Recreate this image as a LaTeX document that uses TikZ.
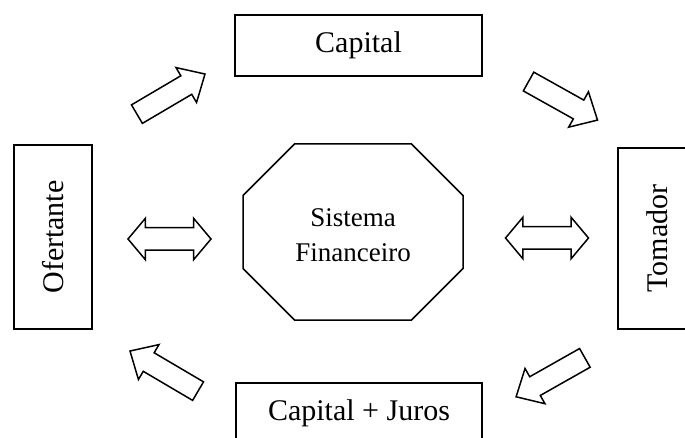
\documentclass[tikz,border=0pt]{standalone}
\usepackage{fontspec}
\setmainfont{Liberation Serif}
\usetikzlibrary{shapes.arrows}
\begin{document}
\begin{tikzpicture}
    [x=1pt, y=-1pt, line width=1.5pt,
    lbox/.style={draw, rectangle, inner sep=0pt, font=\fontsize{30}{36}\selectfont},
    flowarrow/.style={draw, single arrow, inner sep=10pt, minimum height=79pt,
      single arrow head extend=9.5pt, single arrow tip angle=86},
    swaparrow/.style={draw, double arrow, inner sep=10.5pt, minimum height=83pt,
      double arrow head extend=9.5pt, double arrow tip angle=100}]
    \useasboundingbox (0,0) rectangle (685,438);
    \clip (0,0) rectangle (685,438);
    % the four boxes
    \node[lbox, minimum width=247pt, minimum height=61pt] (capital) at (358.5,45.5) {Capital};
    \node[lbox, minimum width=246pt, minimum height=61pt] (juros) at (359,413.5) {Capital + Juros};
    \node[lbox, minimum width=184pt, minimum height=78pt, rotate=90] (ofertante) at (53,237) {Ofertante};
    \node[lbox, minimum width=181pt, minimum height=78pt, rotate=90] (tomador) at (657,238.5) {Tomador};
    % centre
    \node[align=center, font=\fontsize{27}{35}\selectfont] (sistema) at (353,235) {Sistema\\Financeiro};
    \draw[shift={(353,232)}] (-58.5,-88) -- (58.5,-88) -- (110,-36.5) -- (110,36.5)
      -- (58.5,88) -- (-58.5,88) -- (-110,36.5) -- (-110,-36.5) -- cycle;
    % flows
    \node[flowarrow, rotate=30.5] (give) at (166,97) {};
    \node[flowarrow, rotate=-29.2] (lend) at (558,98) {};
    \node[flowarrow, rotate=-150.5] (repay) at (555.5,374.5) {};
    \node[flowarrow, rotate=149.5] (back) at (169,374) {};
    \node[swaparrow] (left) at (169.5,239) {};
    \node[swaparrow] (right) at (547,238) {};
\end{tikzpicture}
\end{document}
